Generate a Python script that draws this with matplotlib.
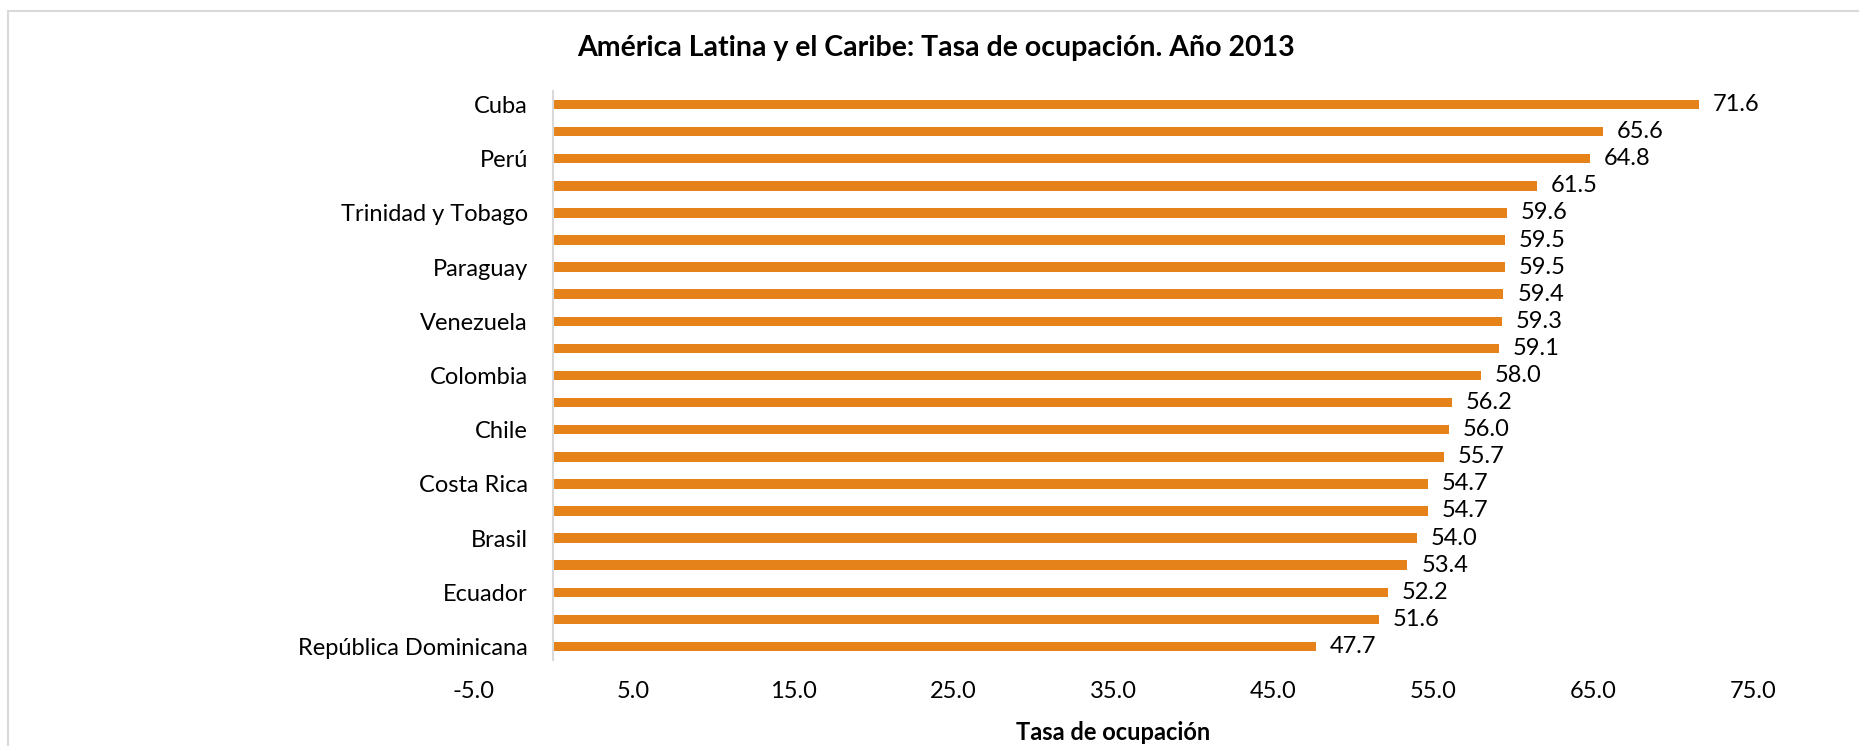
import matplotlib
matplotlib.use("Agg")
import matplotlib.pyplot as plt
from matplotlib.patches import Rectangle

categories = ["Cuba", "", "Perú", "", "Trinidad y Tobago", "", "Paraguay", "",
              "Venezuela", "", "Colombia", "", "Chile", "", "Costa Rica", "",
              "Brasil", "", "Ecuador", "", "República Dominicana"]
values = [71.6, 65.6, 64.8, 61.5, 59.6, 59.5, 59.5, 59.4, 59.3, 59.1, 58.0,
          56.2, 56.0, 55.7, 54.7, 54.7, 54.0, 53.4, 52.2, 51.6, 47.7]
xticks = [-5, 5, 15, 25, 35, 45, 55, 65, 75]
title = "América Latina y el Caribe: Tasa de ocupación. Año 2013"
xlabel = "Tasa de ocupación"

FONT = ["Lato", "DejaVu Sans"]
plt.rcParams["font.family"] = FONT

W, H = 1859, 746
fig = plt.figure(figsize=(W / 100, H / 100), dpi=100)
fig.patch.set_facecolor("white")

# chart area border (cropped on right/bottom)
fig.patches.append(Rectangle((8 / W, -0.1), 1.2, 1 - 11 / H + 0.1,
                             transform=fig.transFigure, fill=False,
                             edgecolor="#D9D9D9", linewidth=1.5))

left, right = 473 / W, 1753 / W
top, bottom = 1 - 91 / H, 1 - 660 / H
ax = fig.add_axes([left, bottom, right - left, top - bottom])

pos = list(range(len(categories)))
bars = ax.barh(pos, values, height=0.35, color="#E5821A")
ax.set_ylim(len(categories) - 0.5, -0.5)
ax.set_xlim(-5, 75)
ax.set_xticks(xticks)
ax.set_xticklabels([f"{t:.1f}" for t in xticks])
ax.set_yticks(pos)
ax.set_yticklabels(categories)

for s in ["top", "right", "bottom"]:
    ax.spines[s].set_visible(False)
ax.spines["left"].set_position(("data", 0))
ax.spines["left"].set_color("#D9D9D9")
ax.spines["left"].set_linewidth(1.5)

ax.tick_params(axis="both", length=0, labelsize=17, colors="black")
ax.tick_params(axis="y", pad=18)
ax.tick_params(axis="x", pad=15)

ax.bar_label(bars, labels=[f"{v:.1f}" for v in values], padding=10,
             fontsize=17, color="black")

fig.text(936 / W, 1 - 48 / H, title, ha="center", va="center",
         fontsize=20.5, fontweight="bold")
fig.text((left + right) / 2, 1 - 732 / H, xlabel, ha="center", va="center",
         fontsize=17, fontweight="bold")

fig.savefig("out.png", dpi=100, facecolor="white")
